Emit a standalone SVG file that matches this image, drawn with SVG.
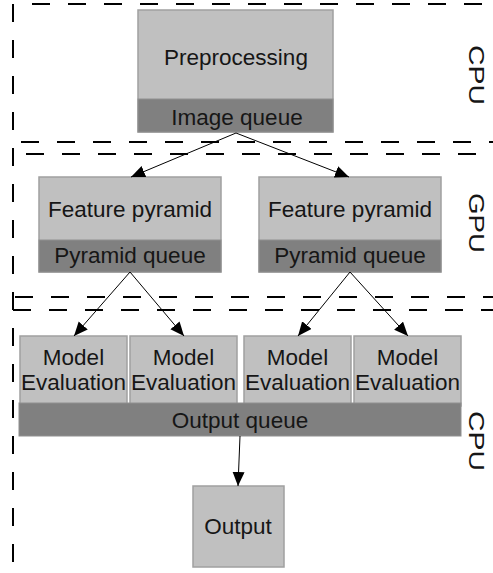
<svg xmlns="http://www.w3.org/2000/svg" width="493" height="573" viewBox="0 0 493 573">
<defs>
<marker id="ah" markerUnits="userSpaceOnUse" markerWidth="15" markerHeight="13" refX="14" refY="6" orient="auto">
<path d="M0,0 L14,6 L0,12 z" fill="#000"/>
</marker>
<style>
.box{fill:#c0c0c0;stroke:#a0a0a0;stroke-width:1.5}
.q{fill:#808080;stroke:#909090;stroke-width:1}
.t{font-family:"Liberation Sans",Arial,sans-serif;font-size:22.5px;fill:#161616;text-anchor:middle}
.lab{font-family:"Liberation Sans",Arial,sans-serif;font-size:22px;fill:#161616;text-anchor:middle}
.dash{stroke:#000;stroke-width:2;stroke-dasharray:18 18;fill:none}
.c{stroke:#000;stroke-width:1;fill:none;marker-end:url(#ah)}
</style>
</defs>
<rect width="493" height="573" fill="#fff"/>
<g id="separators">
<line class="dash" x1="32" y1="4" x2="493" y2="4"/>
<line class="dash" x1="13" y1="4" x2="13" y2="573"/>
<line class="dash" x1="21" y1="142" x2="493" y2="142"/>
<line class="dash" x1="26" y1="154" x2="493" y2="154"/>
<line class="dash" x1="15" y1="297" x2="493" y2="297"/>
<line class="dash" x1="13" y1="310" x2="493" y2="310"/>
</g>
<g id="labels">
<text class="lab" transform="translate(469,75) rotate(90)" textLength="60" lengthAdjust="spacingAndGlyphs">CPU</text>
<text class="lab" transform="translate(469,223) rotate(90)" textLength="60" lengthAdjust="spacingAndGlyphs">GPU</text>
<text class="lab" transform="translate(469,441) rotate(90)" textLength="60" lengthAdjust="spacingAndGlyphs">CPU</text>
</g>
<g id="preprocessing">
<rect class="box" x="138" y="10" width="195" height="122"/>
<rect class="q" x="138" y="99" width="195" height="33"/>
<text class="t" x="236" y="65">Preprocessing</text>
<text class="t" x="237" y="125">Image queue</text>
</g>
<g id="pyramid1">
<rect class="box" x="39" y="177" width="182" height="95"/>
<rect class="q" x="39" y="240" width="182" height="32"/>
<text class="t" x="130" y="217">Feature pyramid</text>
<text class="t" x="130" y="263">Pyramid queue</text>
</g>
<g id="pyramid2">
<rect class="box" x="259" y="177" width="182" height="95"/>
<rect class="q" x="259" y="240" width="182" height="32"/>
<text class="t" x="350" y="217">Feature pyramid</text>
<text class="t" x="350" y="263">Pyramid queue</text>
</g>
<g id="model1">
<rect class="box" x="20" y="336" width="107" height="70"/>
<text class="t" x="73.5" y="365">Model</text>
<text class="t" x="73.5" y="390">Evaluation</text>
</g>
<g id="model2">
<rect class="box" x="130" y="336" width="107" height="70"/>
<text class="t" x="183.5" y="365">Model</text>
<text class="t" x="183.5" y="390">Evaluation</text>
</g>
<g id="model3">
<rect class="box" x="244" y="336" width="107" height="70"/>
<text class="t" x="297.5" y="365">Model</text>
<text class="t" x="297.5" y="390">Evaluation</text>
</g>
<g id="model4">
<rect class="box" x="354" y="336" width="107" height="70"/>
<text class="t" x="407.5" y="365">Model</text>
<text class="t" x="407.5" y="390">Evaluation</text>
</g>
<g id="outputqueue">
<rect class="q" x="19" y="403" width="442" height="33" stroke="none"/>
<text class="t" x="240" y="428">Output queue</text>
</g>
<g id="output">
<rect class="box" x="193" y="486" width="91" height="81"/>
<text class="t" x="238" y="534">Output</text>
</g>
<g id="connectors">
<line class="c" x1="236" y1="133" x2="131" y2="177"/>
<line class="c" x1="236" y1="133" x2="349" y2="177"/>
<line class="c" x1="130" y1="272" x2="74" y2="336"/>
<line class="c" x1="130" y1="272" x2="184" y2="336"/>
<line class="c" x1="350" y1="272" x2="298" y2="336"/>
<line class="c" x1="350" y1="272" x2="408" y2="336"/>
<line class="c" x1="240" y1="436" x2="238" y2="486"/>
</g>
</svg>
